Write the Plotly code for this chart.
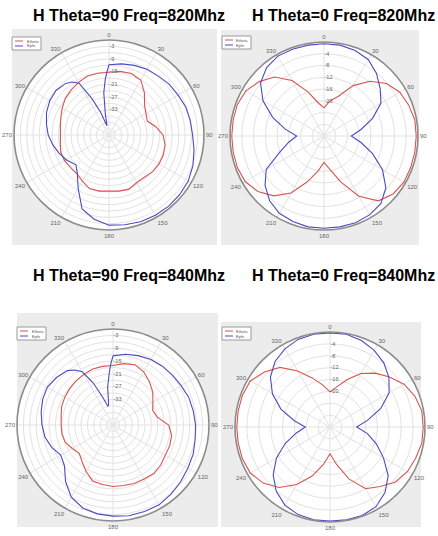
import plotly.graph_objects as go

W, H = 438, 536

# ---- pattern data (gain in dB vs. azimuth in degrees) ----
# 820 MHz, H-plane cut Theta=90
tl_theta_ang = list(range(0, 360, 10))
tl_theta_db = [-15.3, -14.4, -14.0, -14.9, -18.9, -23.0, -24.8, -25.7, -22.5, -19.4,
               -18.0, -17.6, -17.6, -18.0, -18.9, -18.9, -17.6, -18.0, -18.5, -18.0,
               -18.0, -19.8, -21.2, -21.2, -20.7, -20.7, -21.6, -22.0, -21.6, -20.7,
               -19.4, -18.0, -17.1, -16.2, -15.3, -15.3]
tl_phi_ang = [0, 10, 20, 30, 40, 50, 60, 70, 80, 90, 100, 110, 120, 130, 140, 150,
              160, 170, 180, 190, 200, 210, 220, 228, 240, 250, 260, 270, 280, 290,
              300, 310, 320, 325, 330, 335, 340, 345, 348, 350, 353, 356, 358]
tl_phi_db = [-11.7, -10.8, -9.9, -9.0, -8.6, -7.7, -7.2, -6.3, -5.9, -5.4, -4.1, -2.7,
             -1.6, -1.2, -1.0, -1.1, -1.3, -1.8, -2.3, -4.5, -7.7, -15.8, -21.6, -23.9,
             -21.6, -19.8, -18.0, -16.2, -14.9, -13.5, -12.6, -12.2, -13.1, -14.4,
             -16.7, -26.1, -33.8, -39.6, -40.5, -35.1, -24.8, -18.9, -15.3]

# 820 MHz, cut Theta=0
tr_theta_ang = list(range(0, 360, 10))
tr_theta_db = [-22.4, -19.8, -17.6, -12.2, -7.7, -4.2, -2.2, -1.3, -0.6, -0.6,
               -0.6, -0.6, -0.6, -1.3, -3.2, -8.3, -15.4, -20.5, -23.0, -19.8,
               -15.4, -9.6, -5.4, -2.6, -1.0, -0.6, -0.6, -0.6, -0.6, -0.6,
               -1.3, -3.2, -5.8, -10.2, -16.0, -20.5]
tr_phi_ang = list(range(0, 360, 10))
tr_phi_db = [-0.6, -0.6, -1.0, -1.9, -4.2, -7.0, -9.6, -14.4, -19.2, -22.7,
             -19.2, -14.4, -9.0, -4.5, -1.9, -1.0, -0.6, -0.6, -0.6, -0.6,
             -1.0, -1.6, -3.2, -5.8, -9.3, -16.0, -19.8, -22.7, -18.6, -13.4,
             -8.0, -3.8, -1.6, -0.6, -0.6, -0.6]

# 840 MHz, H-plane cut Theta=90
bl_theta_ang = list(range(0, 360, 10))
bl_theta_db = [-17.1, -15.8, -14.9, -16.2, -18.5, -20.7, -23.4, -25.2, -23.9, -18.9,
               -17.1, -16.7, -16.7, -15.8, -15.3, -15.8, -15.8, -16.2, -16.2, -16.7,
               -17.1, -19.8, -22.5, -24.3, -23.0, -21.2, -20.7, -20.7, -20.3, -19.4,
               -18.9, -18.5, -18.0, -17.6, -17.1, -17.1]
bl_phi_ang = [0, 10, 20, 30, 40, 50, 60, 70, 80, 90, 100, 110, 120, 130, 140, 150,
              160, 170, 180, 190, 200, 210, 220, 230, 240, 250, 260, 270, 280, 290,
              300, 310, 320, 325, 330, 335, 340, 345, 348, 352, 356, 358]
bl_phi_db = [-12.6, -11.3, -10.4, -9.5, -9.0, -8.6, -8.1, -7.2, -6.8, -6.3, -5.9, -5.0,
             -4.5, -3.6, -2.7, -1.8, -1.8, -1.8, -2.3, -2.7, -3.6, -5.9, -10.4, -15.3,
             -16.7, -14.4, -12.6, -11.7, -10.8, -9.9, -9.5, -10.4, -11.7, -13.5,
             -16.2, -23.4, -31.5, -36.0, -35.1, -27.0, -20.3, -16.2]

# 840 MHz, cut Theta=0
br_theta_ang = list(range(0, 360, 10))
br_theta_db = [-20.2, -18.2, -15.0, -11.2, -8.3, -5.8, -3.2, -1.6, -0.6, -0.6,
               -0.6, -1.3, -1.9, -3.2, -5.8, -8.0, -13.4, -19.2, -23.0, -19.2,
               -14.4, -9.6, -5.4, -2.6, -1.0, -0.6, -0.6, -0.6, -0.6, -0.6,
               -1.0, -3.2, -5.8, -10.2, -14.4, -17.6]
br_phi_ang = list(range(0, 360, 10))
br_phi_db = [-0.3, -0.3, -1.0, -2.2, -3.8, -6.1, -9.0, -13.8, -19.2, -23.0,
             -19.2, -15.4, -11.2, -6.4, -3.2, -1.0, -0.3, -0.3, -0.3, -0.3,
             -0.6, -1.6, -3.8, -7.0, -11.2, -16.0, -20.5, -23.7, -19.8, -14.4,
             -9.6, -5.8, -3.2, -1.6, -0.6, -0.3]

titles = ["H Theta=90 Freq=820Mhz", "H Theta=0 Freq=820Mhz",
          "H Theta=90 Freq=840Mhz", "H Theta=0 Freq=840Mhz"]
series_names = ["Etheta", "Ephi"]

# angular ticks every 30 degrees, printed without the degree sign
ang_ticks = [0, 30, 60, 90, 120, 150, 180, 210, 240, 270, 300, 330]
ang_labels = ["0", "30", "60", "90", "120", "150", "180", "210", "240", "270", "300", "330"]

# radial scales: Theta=90 cuts use 3 dB rings, Theta=0 cuts use 4 dB rings
h90_rings = [-42, -39, -36, -33, -30, -27, -24, -21, -18, -15, -12, -9, -6, -3]
h90_labels = ["", "", "", "-33", "", "-27", "", "-21", "", "-15", "", "-9", "", "-3"]
h0_rings = [-28, -24, -20, -16, -12, -8, -4]
h0_labels = ["", "", "-20", "-16", "-12", "-8", "-4"]

RED = "#d9534f"
BLUE = "#4b4bc0"
FONT = "Liberation Sans, Arial, sans-serif"


def px_x(v):
    return v / W


def px_y(v):
    return 1 - v / H


panels = [
    dict(key="polar", data=(tl_theta_ang, tl_theta_db, tl_phi_ang, tl_phi_db),
         rng=[-45, 0], rings=h90_rings, labels=h90_labels,
         center=(109, 135), rad=95, box=(12, 29, 217, 245), leg=(12, 37), title=(129, 16)),
    dict(key="polar2", data=(tr_theta_ang, tr_theta_db, tr_phi_ang, tr_phi_db),
         rng=[-32, 0], rings=h0_rings, labels=h0_labels,
         center=(324, 136), rad=94, box=(221, 30, 419, 245), leg=(222, 36), title=(343, 16)),
    dict(key="polar3", data=(bl_theta_ang, bl_theta_db, bl_phi_ang, bl_phi_db),
         rng=[-45, 0], rings=h90_rings, labels=h90_labels,
         center=(113, 425), rad=96, box=(17, 313, 218, 527), leg=(17, 327), title=(129, 275)),
    dict(key="polar4", data=(br_theta_ang, br_theta_db, br_phi_ang, br_phi_db),
         rng=[-32, 0], rings=h0_rings, labels=h0_labels,
         center=(330, 427), rad=95, box=(221, 322, 421, 527), leg=(222, 327), title=(343, 275)),
]

fig = go.Figure()
shapes, annotations = [], []
layout = dict(
    width=W, height=H,
    margin=dict(l=0, r=0, t=0, b=0),
    paper_bgcolor="white",
    font=dict(family=FONT),
    showlegend=False,
)

for i, p in enumerate(panels):
    th_ang, th_db, ph_ang, ph_db = p["data"]
    sub = p["key"]
    for name, ang, db, col in ((series_names[0], th_ang, th_db, RED),
                               (series_names[1], ph_ang, ph_db, BLUE)):
        fig.add_trace(go.Scatterpolar(
            theta=ang + ang[:1], r=db + db[:1], mode="lines", name=name,
            line=dict(color=col, width=1.1), subplot=sub,
        ))

    cx, cy = p["center"]
    r = p["rad"]
    layout[sub] = dict(
        domain=dict(x=[px_x(cx - r), px_x(cx + r)], y=[px_y(cy + r), px_y(cy - r)]),
        bgcolor="white",
        angularaxis=dict(rotation=90, direction="clockwise",
                         tickmode="array", tickvals=ang_ticks, ticktext=ang_labels,
                         tickfont=dict(size=6, color="#666666"), ticks="",
                         gridcolor="#e2e2e2", gridwidth=0.8,
                         showline=True, linecolor="#8c8c8c", linewidth=1.6),
        radialaxis=dict(range=p["rng"], tickvals=p["rings"], ticktext=p["labels"],
                        angle=90, tickangle=90, ticks="", showline=False,
                        tickfont=dict(size=5.5, color="#666666"),
                        gridcolor="#e2e2e2", gridwidth=0.8),
    )

    # panel background
    x0, y0, x1, y1 = p["box"]
    shapes.append(dict(type="rect", xref="paper", yref="paper",
                       x0=px_x(x0), x1=px_x(x1), y0=px_y(y1), y1=px_y(y0),
                       fillcolor="#ececec", line=dict(width=0), layer="below"))

    # compact legend box: two short line keys with their series names
    lx, ly = p["leg"]
    shapes.append(dict(type="rect", xref="paper", yref="paper",
                       x0=px_x(lx), x1=px_x(lx + 29), y0=px_y(ly + 13), y1=px_y(ly),
                       fillcolor="white", line=dict(color="#9a9a9a", width=1), layer="above"))
    for k, (name, col) in enumerate(((series_names[0], RED), (series_names[1], BLUE))):
        yy = ly + 4 + 5 * k
        shapes.append(dict(type="line", xref="paper", yref="paper",
                           x0=px_x(lx + 3), x1=px_x(lx + 11), y0=px_y(yy), y1=px_y(yy),
                           line=dict(color=col, width=1), layer="above"))
        annotations.append(dict(text=name, x=px_x(lx + 12.5), y=px_y(yy),
                                xref="paper", yref="paper", showarrow=False,
                                xanchor="left", yanchor="middle",
                                font=dict(size=4, color="#555555", family=FONT)))

    tx, ty = p["title"]
    annotations.append(dict(text=f"<b>{titles[i]}</b>", x=px_x(tx), y=px_y(ty),
                            xref="paper", yref="paper", showarrow=False,
                            xanchor="center", yanchor="middle",
                            font=dict(size=16, color="black", family=FONT)))

layout["shapes"] = shapes
layout["annotations"] = annotations
fig.update_layout(**layout)
fig.write_html("out.html")
